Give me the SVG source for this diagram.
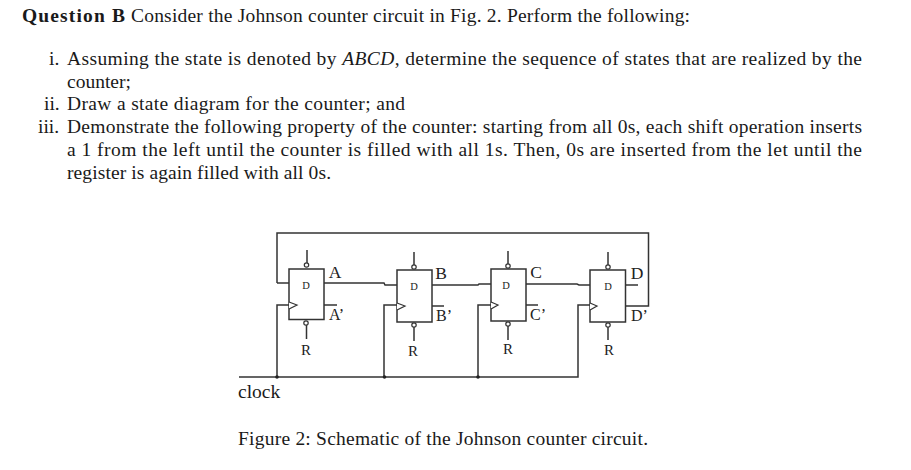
<svg xmlns="http://www.w3.org/2000/svg" width="911" height="470" viewBox="0 0 911 470">
<style>
.t{font-family:"Liberation Serif","Times New Roman",serif;font-size:19.5px;fill:#1a1a1a}
.b{font-weight:bold}
.i{font-style:italic}
.l{font-family:"Liberation Serif","Times New Roman",serif;font-size:16px;fill:#222}
.q{font-family:"Liberation Serif","Times New Roman",serif;font-size:17.5px;fill:#222;text-anchor:middle}
.r{font-family:"Liberation Serif","Times New Roman",serif;font-size:15px;fill:#222;text-anchor:middle}
.s{font-family:"Liberation Serif","Times New Roman",serif;font-size:10.5px;fill:#222;text-anchor:middle}
.w{fill:none;stroke:#333;stroke-width:1.5}
.f{fill:#fff;stroke:#333;stroke-width:1.5}
.c{fill:#fff;stroke:#333;stroke-width:1.2}
</style>
<rect width="911" height="470" fill="#fff"/>
<g id="question">
<text class="t b" x="22" y="22" textLength="103">Question B</text>
<text class="t" x="131" y="22" textLength="559">Consider the Johnson counter circuit in Fig. 2. Perform the following:</text>
<text class="t" x="49" y="65">i.</text>
<text class="t" x="67" y="65" textLength="795">Assuming the state is denoted by <tspan class="i">ABCD</tspan>, determine the sequence of states that are realized by the</text>
<text class="t" x="67" y="88">counter;</text>
<text class="t" x="44" y="110">ii.</text>
<text class="t" x="67" y="110" textLength="338">Draw a state diagram for the counter; and</text>
<text class="t" x="38" y="133">iii.</text>
<text class="t" x="67" y="133" textLength="795">Demonstrate the following property of the counter: starting from all 0s, each shift operation inserts</text>
<text class="t" x="67" y="156" textLength="795">a 1 from the left until the counter is filled with all 1s. Then, 0s are inserted from the let until the</text>
<text class="t" x="67" y="179" textLength="264">register is again filled with all 0s.</text>
</g>
<g id="connectors">
<path class="w" d="M277 283V233H648.500V306H626"/>
<path class="w" d="M277 283H289"/>
<path class="w" d="M324 283H384L385 285H397"/>
<path class="w" d="M432 285H478L479 284H491"/>
<path class="w" d="M526 284H577L579 285H590"/>
<path class="w" d="M239 377H578V305H590"/>
<path class="w" d="M277 377V305H289"/>
<path class="w" d="M384 377V305H397"/>
<path class="w" d="M478 377V305H491"/>
<path class="w" d="M324 305H337"/>
<path class="w" d="M432 306H444"/>
<path class="w" d="M526 305H538"/>
<path class="w" d="M626 285H638"/>
<circle cx="277" cy="377" r="1.800" fill="#222"/>
<circle cx="384.500" cy="377" r="1.800" fill="#222"/>
<circle cx="478" cy="377" r="1.800" fill="#222"/>
</g>
<g id="ff-a">
<rect class="f" x="289" y="269" width="35" height="50.500"/>
<path class="c" d="M289 302L297 305L289 309"/>
<path class="w" d="M307 250V264M306.500 324V339"/>
<circle class="c" cx="306.500" cy="265" r="2.200"/>
<circle class="c" cx="306" cy="323" r="2.200"/>
<text class="s" x="306" y="289">D</text>
<text class="q" x="335" y="278">A</text>
<text class="l" x="329" y="320">A’</text>
<text class="r" x="306" y="355">R</text>
</g>
<g id="ff-b">
<rect class="f" x="397" y="270" width="35" height="52"/>
<path class="c" d="M397 303L405 306L397 310"/>
<path class="w" d="M414 252V266M414 327V341"/>
<circle class="c" cx="414" cy="267" r="2.200"/>
<circle class="c" cx="414" cy="325" r="2.200"/>
<text class="s" x="414" y="290">D</text>
<text class="q" x="441" y="279">B</text>
<text class="l" x="436" y="321">B’</text>
<text class="r" x="413" y="356">R</text>
</g>
<g id="ff-c">
<rect class="f" x="491" y="269" width="35" height="52"/>
<path class="c" d="M491 302L498 305L491 309"/>
<path class="w" d="M508 251V265M508 326V340"/>
<circle class="c" cx="508" cy="266" r="2.200"/>
<circle class="c" cx="508" cy="324" r="2.200"/>
<text class="s" x="506" y="289">D</text>
<text class="q" x="536" y="278">C</text>
<text class="l" x="530" y="320">C’</text>
<text class="r" x="508" y="354">R</text>
</g>
<g id="ff-d">
<rect class="f" x="590" y="270" width="35.500" height="52"/>
<path class="c" d="M590 303L597 306L590 310"/>
<path class="w" d="M608 252V266M608 327V340"/>
<circle class="c" cx="608" cy="267" r="2.200"/>
<circle class="c" cx="608" cy="325" r="2.200"/>
<text class="s" x="608" y="290">D</text>
<text class="q" x="637" y="279">D</text>
<text class="l" x="631" y="321">D’</text>
<text class="r" x="609" y="355">R</text>
</g>
<g id="labels">
<text class="t" x="238" y="398">clock</text>
<text class="t" x="238" y="445" textLength="410">Figure 2: Schematic of the Johnson counter circuit.</text>
</g>
</svg>
